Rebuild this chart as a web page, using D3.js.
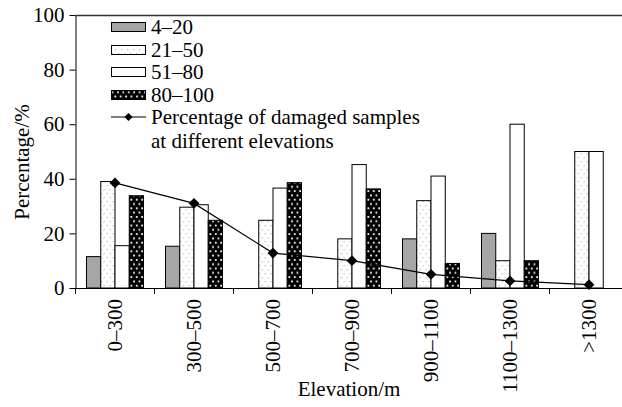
<!DOCTYPE html>
<html lang="en">
<head>
<meta charset="UTF-8">
<title>Damaged samples by elevation</title>
<script src="https://cdn.jsdelivr.net/npm/d3@7"></script>
<style>
    * { box-sizing: border-box; padding: 0; margin: 0; border: 0; }
    body { background: #fff; overflow: hidden; }
    text { font-family: "Liberation Serif", "Times New Roman", serif; fill: #000; }
</style>
</head>
<body>
<svg width="622" height="407"></svg>
<script>
    var categories = ["0\u2013300", "300\u2013500", "500\u2013700", "700\u2013900", "900\u20131100", "1100\u20131300", ">1300"];
    var seriesNames = ["4\u201320", "21\u201350", "51\u201380", "80\u2013100"];
    var v4_20 = [11.5, 15.3, 0, 0, 18, 20, 0];
    var v21_50 = [39, 29.6, 24.8, 18, 32, 10, 50];
    var v51_80 = [15.5, 30.5, 36.6, 45.2, 41, 60, 50];
    var v80_100 = [33.8, 24.8, 38.6, 36.3, 9, 10, 0];
    var damaged = [38.5, 31, 12.8, 10, 5, 2.6, 1.2];
    var yTicks = [0, 20, 40, 60, 80, 100];

    var FONT = "Liberation Serif, Times New Roman, serif";
    var svg = d3.select("svg");
    var defs = svg.append("defs");

    // light dotted fill
    var pDot = defs.append("pattern").attr("id", "dotted")
        .attr("patternUnits", "userSpaceOnUse").attr("width", 6).attr("height", 8);
    pDot.append("rect").attr("width", 6).attr("height", 8).attr("fill", "#fff");
    pDot.append("rect").attr("x", 1).attr("y", 1).attr("width", 1.3).attr("height", 1.3).attr("fill", "#bdbdbd");
    pDot.append("rect").attr("x", 4).attr("y", 5).attr("width", 1.3).attr("height", 1.3).attr("fill", "#bdbdbd");

    // black with white squares
    var pBlk = defs.append("pattern").attr("id", "blackdots")
        .attr("patternUnits", "userSpaceOnUse").attr("width", 5.4).attr("height", 8.6);
    pBlk.append("rect").attr("width", 5.4).attr("height", 8.6).attr("fill", "#000");
    pBlk.append("rect").attr("x", 1).attr("y", 1).attr("width", 1.8).attr("height", 1.8).attr("fill", "#fff");
    pBlk.append("rect").attr("x", 3.7).attr("y", 5.3).attr("width", 1.8).attr("height", 1.8).attr("fill", "#fff");

    var fills = ["#a6a6a6", "url(#dotted)", "#fff", "url(#blackdots)"];
    var seriesData = [v4_20, v21_50, v51_80, v80_100];

    var x = d3.scaleBand().domain(categories).range([75.5, 628.5]);
    var xInner = d3.scaleBand().domain(d3.range(4)).range([11, x.bandwidth() - 11]);
    var y = d3.scaleLinear().domain([0, 100]).range([288, 15]);

    // bars
    var groups = svg.append("g").selectAll("g")
        .data(categories).enter().append("g")
        .attr("transform", function (d) { return "translate(" + x(d) + ",0)"; });
    groups.selectAll("rect")
        .data(function (d, i) { return seriesData.map(function (s, k) { return { k: k, v: s[i] }; }); })
        .enter().append("rect")
        .filter(function (d) { return d.v > 0; })
        .attr("x", function (d) { return xInner(d.k); })
        .attr("y", function (d) { return y(d.v); })
        .attr("width", xInner.bandwidth())
        .attr("height", function (d) { return y(0) - y(d.v); })
        .attr("fill", function (d) { return fills[d.k]; })
        .attr("stroke", "#000").attr("stroke-width", 1);

    // line with diamonds
    var line = d3.line()
        .x(function (d, i) { return x(categories[i]) + x.bandwidth() / 2; })
        .y(function (d) { return y(d); });
    svg.append("path").datum(damaged).attr("d", line)
        .attr("fill", "none").attr("stroke", "#000").attr("stroke-width", 1.2);
    var diamond = d3.symbol().type(d3.symbolSquare).size(58);
    svg.selectAll(".pt").data(damaged).enter().append("path")
        .attr("class", "pt").attr("d", diamond)
        .attr("fill", "#000")
        .attr("transform", function (d, i) {
            return "translate(" + (x(categories[i]) + x.bandwidth() / 2) + "," + y(d) + ") rotate(45)";
        });

    // y axis
    var yAxis = d3.axisLeft(y).tickValues(yTicks).tickSize(6).tickPadding(5).tickSizeOuter(0);
    var ya = svg.append("g").attr("transform", "translate(75.5,0)").call(yAxis);
    ya.attr("font-family", FONT).attr("font-size", 21);
    ya.selectAll("line, path").attr("stroke", "#000");

    // top frame line
    svg.append("line").attr("x1", 75.5).attr("x2", 622).attr("y1", 15.5).attr("y2", 15.5)
        .attr("stroke", "#333").attr("stroke-width", 1.3);

    // x axis: labels at centres, ticks at boundaries
    var xa = svg.append("g").attr("transform", "translate(0,288)")
        .call(d3.axisBottom(x).tickSize(0).tickSizeOuter(0));
    xa.attr("font-family", FONT).attr("font-size", 21);
    xa.select(".domain").attr("stroke", "#000");
    xa.selectAll("text")
        .attr("transform", "translate(0,11) rotate(-90)")
        .attr("x", 0).attr("y", 0).attr("dy", "0.35em")
        .attr("text-anchor", "end");
    xa.selectAll(".bnd").data(categories).enter().append("line")
        .attr("class", "bnd")
        .attr("x1", function (d) { return x(d); }).attr("x2", function (d) { return x(d); })
        .attr("y1", 0).attr("y2", 6).attr("stroke", "#000");

    // axis titles
    svg.append("text").attr("transform", "translate(22,162) rotate(-90)")
        .attr("text-anchor", "middle").attr("dy", "0.35em")
        .attr("font-family", FONT).attr("font-size", 21).text("Percentage/%");
    svg.append("text").attr("x", 349).attr("y", 396)
        .attr("text-anchor", "middle")
        .attr("font-family", FONT).attr("font-size", 21).text("Elevation/m");

    // legend
    var leg = svg.append("g").attr("font-family", FONT).attr("font-size", 21);
    var rowY = [27, 50, 72, 95];
    seriesNames.forEach(function (name, k) {
        leg.append("rect").attr("x", 111.5).attr("y", rowY[k] - 4.5).attr("width", 34).attr("height", 9)
            .attr("fill", fills[k]).attr("stroke", "#000");
        leg.append("text").attr("x", 151).attr("y", rowY[k]).attr("dy", "0.35em").text(name);
    });
    leg.append("line").attr("x1", 111).attr("x2", 146).attr("y1", 117).attr("y2", 117)
        .attr("stroke", "#000").attr("stroke-width", 1.2);
    leg.append("path").attr("d", d3.symbol().type(d3.symbolSquare).size(34))
        .attr("transform", "translate(128.5,117) rotate(45)").attr("fill", "#000");
    leg.append("text").attr("x", 151).attr("y", 117).attr("dy", "0.35em").text("Percentage of damaged samples");
    leg.append("text").attr("x", 151).attr("y", 141).attr("dy", "0.35em").text("at different elevations");
</script>
</body>
</html>
